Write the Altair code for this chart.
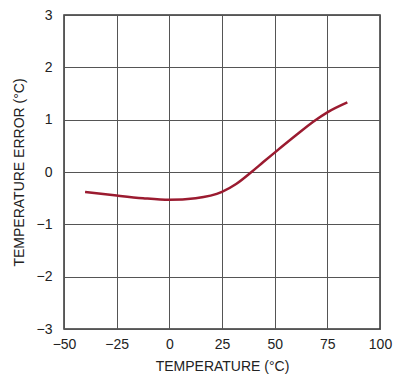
import altair as alt
import pandas as pd

temps = [-40, -25, -12.5, 0, 12.5, 25, 31.7, 39, 44.6, 50, 60.4, 68.3, 75, 84.5]
errors = [-0.38, -0.45, -0.50, -0.53, -0.50, -0.38, -0.23, 0.0, 0.19, 0.37, 0.71, 0.96, 1.14, 1.33]

df = pd.DataFrame({"t": temps, "e": errors})

font = "Liberation Sans"

chart = alt.Chart(df).mark_line(color="#9B1B30", strokeWidth=2.5, interpolate="monotone").encode(
    x=alt.X("t:Q", scale=alt.Scale(domain=[-50, 100], nice=False),
            axis=alt.Axis(values=[-50, -25, 0, 25, 50, 75, 100], title="TEMPERATURE (°C)",
                          grid=True, gridColor="#555555", gridWidth=1, gridOpacity=1,
                          domain=False, ticks=False, labelPadding=8, labelFontSize=14,
                          labelFont=font, labelColor="#222222", titleFont=font,
                          titleFontSize=14, titleFontWeight="normal", titleColor="#222222",
                          titlePadding=8, labelFlush=False)),
    y=alt.Y("e:Q", scale=alt.Scale(domain=[-3, 3], nice=False),
            axis=alt.Axis(values=[-3, -2, -1, 0, 1, 2, 3], title="TEMPERATURE ERROR (°C)",
                          grid=True, gridColor="#555555", gridWidth=1, gridOpacity=1,
                          domain=False, ticks=False, labelPadding=12, labelFontSize=14,
                          labelFont=font, labelColor="#222222", titleFont=font,
                          titleFontSize=14, titleFontWeight="normal", titleColor="#222222",
                          titlePadding=10, labelFlush=False)),
).properties(
    width=316, height=314,
    padding={"left": 56, "top": 7, "right": 13, "bottom": 45},
    autosize=alt.AutoSizeParams(type="none"),
).configure_view(stroke="#333333", strokeWidth=1.5)

chart.save("out.html", embed_options={"renderer": "svg", "actions": False})
